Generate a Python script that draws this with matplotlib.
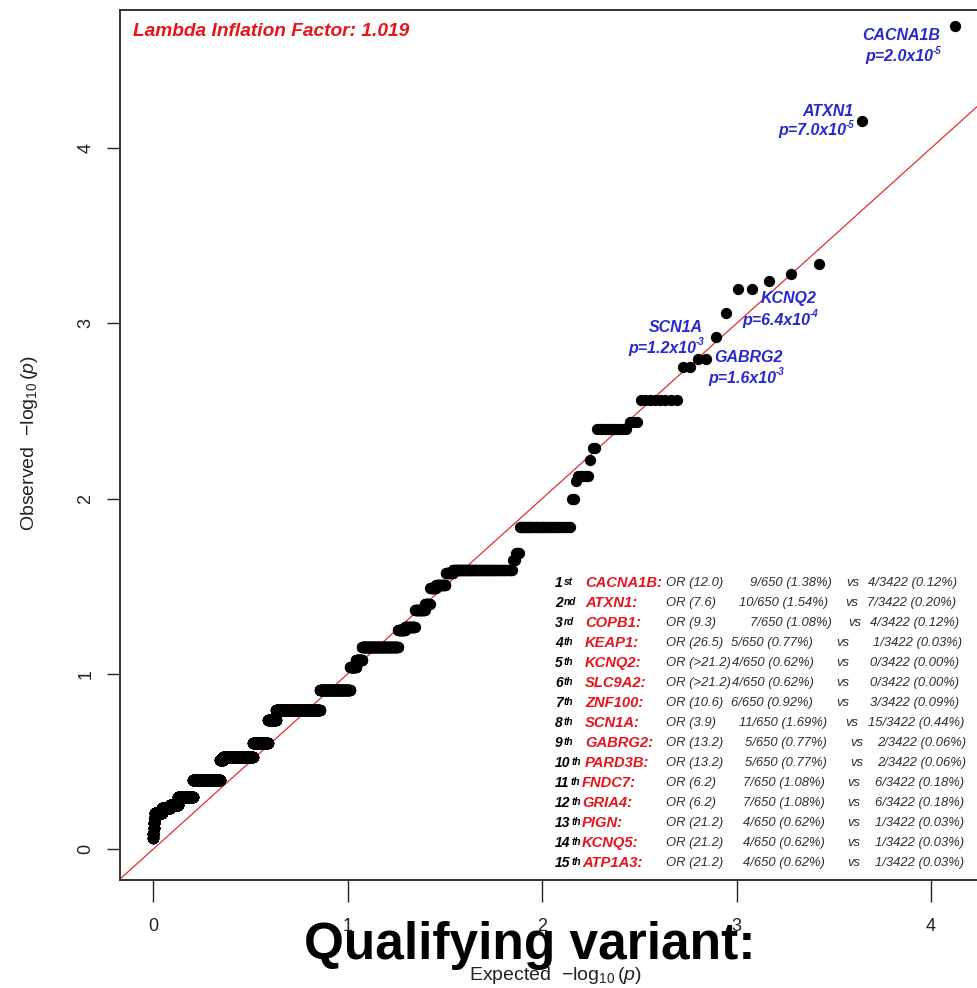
import numpy as np
import matplotlib
matplotlib.use("Agg")
import matplotlib.pyplot as plt

plt.rcParams['font.family'] = ['Liberation Sans', 'DejaVu Sans']
plt.rcParams['mathtext.fontset'] = 'custom'
plt.rcParams['mathtext.rm'] = 'Liberation Sans'
plt.rcParams['mathtext.it'] = 'Liberation Sans:italic'

# observed -log10(p) levels (descending) and number of genes tied at each level
obs_levels = [4.699, 4.155, 3.337, 3.28, 3.244, 3.194, 3.06, 2.921, 2.796, 2.75,
              2.563, 2.44, 2.40, 2.29, 2.22, 2.13, 2.10, 2.0, 1.84, 1.69,
              1.65, 1.593, 1.575, 1.51, 1.49, 1.40, 1.365, 1.27, 1.25, 1.156,
              1.08, 1.042, 0.909, 0.795, 0.738, 0.606, 0.528, 0.51, 0.395, 0.30,
              0.253, 0.234, 0.207, 0.18, 0.15, 0.12, 0.09, 0.063]
obs_counts = [1, 1, 1, 1, 1, 2, 1, 1, 2, 2,
              8, 3, 11, 2, 1, 6, 1, 2, 40, 4,
              3, 97, 17, 25, 17, 16, 33, 37, 29, 194,
              41, 44, 276, 627, 154, 331, 866, 104, 1132, 802,
              490, 541, 515, 40, 40, 35, 25, 15]

lambda_gc = 1.019

# labelled genes
lab_genes = ['CACNA1B', 'ATXN1', 'KCNQ2', 'SCN1A', 'GABRG2']
lab_mant = ['2.0', '7.0', '6.4', '1.2', '1.6']
lab_exp = ['-5', '-5', '-4', '-3', '-3']

# top 15 table
rank_suffix = ['st', 'nd', 'rd'] + ['th'] * 12
tab_genes = ['CACNA1B', 'ATXN1', 'COPB1', 'KEAP1', 'KCNQ2', 'SLC9A2', 'ZNF100', 'SCN1A',
             'GABRG2', 'PARD3B', 'FNDC7', 'GRIA4', 'PIGN', 'KCNQ5', 'ATP1A3']
tab_or = ['12.0', '7.6', '9.3', '26.5', '>21.2', '>21.2', '10.6', '3.9',
          '13.2', '13.2', '6.2', '6.2', '21.2', '21.2', '21.2']
case_n = [9, 10, 7, 5, 4, 4, 6, 11, 5, 5, 7, 7, 4, 4, 4]
case_pct = ['1.38', '1.54', '1.08', '0.77', '0.62', '0.62', '0.92', '1.69',
            '0.77', '0.77', '1.08', '1.08', '0.62', '0.62', '0.62']
ctrl_n = [4, 7, 4, 1, 0, 0, 3, 15, 2, 2, 6, 6, 1, 1, 1]
ctrl_pct = ['0.12', '0.20', '0.12', '0.03', '0.00', '0.00', '0.09', '0.44',
            '0.06', '0.06', '0.18', '0.18', '0.03', '0.03', '0.03']
n_cases, n_ctrls = 650, 3422

# build QQ coordinates
observed = np.repeat(obs_levels, obs_counts)
n = len(observed)
expected = -np.log10((np.arange(1, n + 1) - 0.5) / n)

W, H = 978, 988
fig = plt.figure(figsize=(W / 100, H / 100), dpi=100)
ax = fig.add_axes([120 / W, 108 / H, 869 / W, 870 / H])


def fxy(px, py):
    return px / W, 1 - py / H


ax.plot([-1, 6], [-1, 6], color='#e03030', lw=0.9, zorder=1)
ax.scatter(expected, observed, s=66, c='black', linewidths=0, zorder=2)

ax.set_xlim(-0.1697, 4.298)
ax.set_ylim(-0.175, 4.788)
ax.set_xticks([0, 1, 2, 3, 4])
ax.set_yticks([0, 1, 2, 3, 4])
ax.set_yticklabels(['0', '1', '2', '3', '4'], rotation=90, va='center')
ax.tick_params(axis='x', length=16, width=1, pad=11, labelsize=13, colors='#222222')
ax.tick_params(axis='y', length=9.5, width=1, pad=9, labelsize=13, colors='#222222')
for s in ax.spines.values():
    s.set_linewidth(1.4)
    s.set_color('#333333')

fig.text(555 / W, 1 - 975 / H, r'Expected  $-\log_{10}(p)$', ha='center', va='center',
         fontsize=14, color='#222222')
fig.text(30 / W, 1 - 443 / H, r'Observed  $-\log_{10}(p)$', ha='center', va='center',
         rotation=90, fontsize=14, color='#222222')

fig.text(*fxy(133, 32), 'Lambda Inflation Factor: %.3f' % lambda_gc, ha='left', va='center',
         fontsize=13.8, fontweight='bold', fontstyle='italic', color='#e8141b')

# gene labels with p-values
lab_pos = [(940, 35, 57), (853, 111, 131), (817, 298, 320), (703, 327, 348), (783, 357, 378)]
blue = '#2828d0'
for g, m, e, (rx, y1, y2) in zip(lab_genes, lab_mant, lab_exp, lab_pos):
    fig.text(*fxy(rx, y1), g, ha='right', va='center', fontsize=11.5,
             fontweight='bold', fontstyle='italic', color=blue)
    t = fig.text(*fxy(rx - 7, y2), 'p=%sx10' % m, ha='right', va='center', fontsize=11.5,
                 fontweight='bold', fontstyle='italic', color=blue)
    ax.annotate(e, xy=(1, 0.55), xycoords=t, ha='left', va='bottom', fontsize=7,
                fontweight='bold', fontstyle='italic', color=blue)

# table of top genes
grey = '#2e2e2e'
red = '#e8141b'
case_x = [750, 739, 750, 731, 732, 732, 731, 739, 745, 745, 743, 743, 743, 743, 743]
vs_x = [846, 845, 848, 836, 836, 836, 836, 845, 850, 850, 847, 847, 847, 847, 847]
ctrl_x = [868, 867, 870, 873, 870, 870, 870, 868, 877, 877, 875, 875, 875, 875, 875]
body = dict(fontsize=9.4, fontstyle='italic', color=grey, va='center', ha='left')
for i in range(15):
    y = 583.3 + 20.0 * i
    r = fig.text(*fxy(555, y), str(i + 1), fontsize=10, fontweight='bold',
                 fontstyle='italic', color='black', va='center', ha='left')
    ax.annotate(rank_suffix[i], xy=(1, 0.92), xycoords=r, xytext=(0.8, 0),
                textcoords='offset points', ha='left', va='top',
                fontsize=7.3, fontweight='bold', fontstyle='italic', color='black')
    gx = 585 if i < 10 else 582
    fig.text(*fxy(gx, y), tab_genes[i] + ':', fontsize=10.6, fontweight='bold',
             fontstyle='italic', color=red, va='center', ha='left')
    fig.text(*fxy(666, y), 'OR (%s)' % tab_or[i], **body)
    fig.text(*fxy(case_x[i], y), '%d/%d (%s%%)' % (case_n[i], n_cases, case_pct[i]), **body)
    fig.text(*fxy(vs_x[i], y), 'vs', **body)
    fig.text(*fxy(ctrl_x[i], y), '%d/%d (%s%%)' % (ctrl_n[i], n_ctrls, ctrl_pct[i]), **body)

fig.text(530 / W, 1 - 945 / H, 'Qualifying variant:', ha='center', va='center',
         fontsize=37, fontweight='bold', color='black', zorder=5)

fig.savefig('out.png', dpi=100, facecolor='white')
